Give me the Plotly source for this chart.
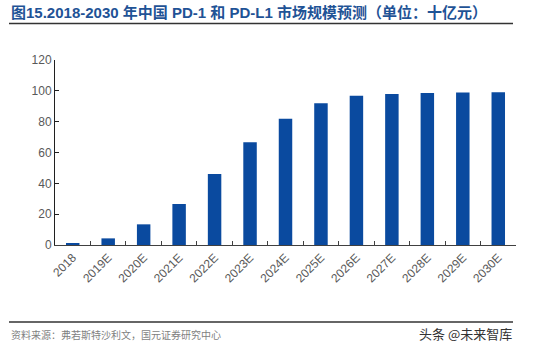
import plotly.graph_objects as go

categories = ["2018", "2019E", "2020E", "2021E", "2022E", "2023E", "2024E",
              "2025E", "2026E", "2027E", "2028E", "2029E", "2030E"]
values = [1.0, 4.3, 13.4, 26.6, 46.0, 66.6, 81.9, 91.9, 96.8, 97.9, 98.6, 99.0, 99.1]
y_ticks = [0, 20, 40, 60, 80, 100, 120]

title_text = "图15.2018-2030 年中国 PD-1 和 PD-L1 市场规模预测（单位：十亿元）"
source_text = "资料来源：弗若斯特沙利文，国元证券研究中心"
watermark_text = "头条 @未来智库"

W, H = 554, 349
L, R, T, B = 55, 38, 60, 104
pw, ph = W - L - R, H - T - B

def px(x):
    return (x - L) / pw

def py(y):
    return (H - B - y) / ph

fig = go.Figure()
fig.add_trace(go.Bar(
    x=categories, y=values, width=0.38,
    marker=dict(color="#0A4A9F", line=dict(width=0)),
))

fig.update_layout(
    width=W, height=H,
    margin=dict(l=L, r=R, t=T, b=B),
    paper_bgcolor="white", plot_bgcolor="white",
    showlegend=False,
    bargap=0.62,
    font=dict(family="Liberation Sans, Arial, Noto Sans CJK SC", color="#595959", size=12),
    xaxis=dict(
        type="category", showgrid=False, showline=True, linecolor="#404040", linewidth=1,
        ticks="inside", tickson="boundaries", ticklen=4, tickcolor="#404040",
        tickangle=-45, tickfont=dict(size=12, color="#595959"),
    ),
    yaxis=dict(
        range=[0, 120], tickvals=y_ticks, showgrid=False, zeroline=False,
        showline=True, linecolor="#202020", linewidth=1,
        ticks="inside", ticklen=4, tickcolor="#202020",
        tickfont=dict(size=12, color="#595959"),
    ),
    shapes=[
        dict(type="line", xref="paper", yref="paper", x0=px(9), x1=px(513),
             y0=py(23.5), y1=py(23.5), line=dict(color="#333333", width=1.5)),
        dict(type="line", xref="paper", yref="paper", x0=px(9), x1=px(513),
             y0=py(322), y1=py(322), line=dict(color="#333333", width=1.5)),
    ],
    annotations=[
        dict(text="<b>" + title_text + "</b>", xref="paper", yref="paper",
             x=px(9), y=py(12), xanchor="left", yanchor="middle", showarrow=False,
             font=dict(size=15, color="#1F5396", family="Liberation Sans, Noto Sans CJK SC")),
        dict(text=source_text, xref="paper", yref="paper",
             x=px(9), y=py(334), xanchor="left", yanchor="middle", showarrow=False,
             font=dict(size=10, color="#7F7F7F", family="Noto Sans CJK SC")),
        dict(text=watermark_text, xref="paper", yref="paper",
             x=px(514), y=py(333), xanchor="right", yanchor="middle", showarrow=False,
             font=dict(size=13, color="#333333", family="Noto Sans CJK SC")),
    ],
)

fig.write_html("out.html")
